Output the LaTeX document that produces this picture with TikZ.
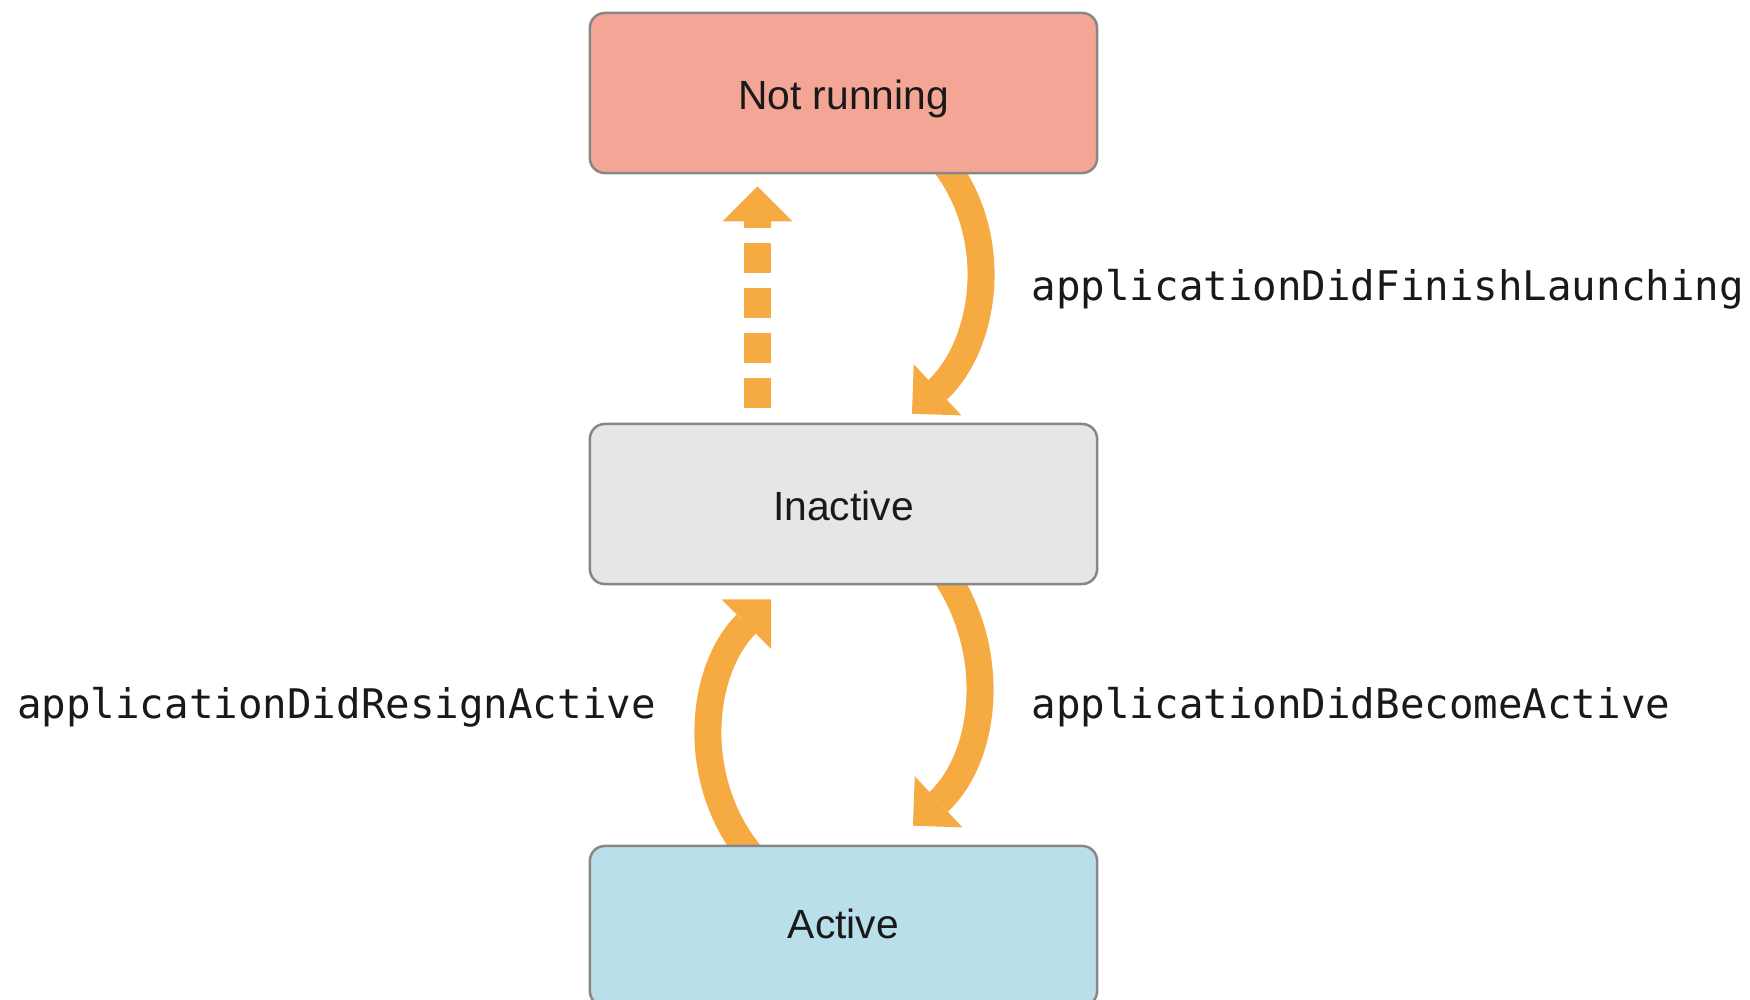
\documentclass[tikz,border=0pt]{standalone}
\usepackage{fontspec}
\setmainfont{Liberation Sans}
\newfontfamily\codefont{DejaVu Sans Mono}
\usetikzlibrary{arrows.meta,backgrounds}
\definecolor{nrfill}{RGB}{243,166,149}
\definecolor{infill}{RGB}{229,231,230}
\definecolor{acfill}{RGB}{185,223,234}
\definecolor{boxline}{RGB}{135,135,135}
\definecolor{arrowc}{RGB}{245,170,66}
\definecolor{ink}{RGB}{25,25,25}
\begin{document}
\begin{tikzpicture}[x=0.01cm,y=0.01cm,
  state/.style={draw=boxline, line width=0.025cm, rounded corners=0.15cm,
    minimum width=5.07cm, minimum height=1.6cm, inner sep=0pt,
    text height=0.32cm, text depth=0pt,
    text=ink, font=\fontsize{11.6}{14}\selectfont},
  flow/.style={draw=arrowc, line width=0.27cm,
    -{Triangle[length=0.35cm,width=0.7cm,line width=0pt]}},
  lbl/.style={font=\codefont\fontsize{11.6}{14}\selectfont, text=ink,
    inner sep=0pt, anchor=base west}]
\useasboundingbox (0,0) rectangle (1750,-1000);

% application states
\node[state, fill=nrfill] (nr) at (843.5,-93)  {Not running};
\node[state, fill=infill] (in) at (843.5,-504) {Inactive};
\node[state, fill=acfill, text depth=0.08cm] (ac) at (843.5,-926) {Active};

% transitions, drawn underneath the state boxes
\begin{scope}[on background layer]
  \draw[flow] ([shift={(95.5,17.6)}]nr.south) to[out=-50,in=43]
              ([shift={(68.5,9)}]in.north);
  \draw[flow] ([shift={(89,27.7)}]in.south) to[out=-50,in=43]
              ([shift={(69.5,19)}]ac.north);
  \draw[flow] ([shift={(-80,-24)}]ac.north) to[out=135.5,in=225]
              ([shift={(-72.5,-14)}]in.south);
  \draw[flow, dash pattern=on 0.3cm off 0.15cm]
              ([shift={(-86,15)}]in.north) -- ([shift={(-86,-12)}]nr.south);
\end{scope}

% delegate callbacks
\node[lbl] (lfinish) at (1031,-300) {applicationDidFinishLaunching};
\node[lbl] (lbecome) at (1031,-718) {applicationDidBecomeActive};
\node[lbl] (lresign) at (16.5,-718) {applicationDidResignActive};
\end{tikzpicture}
\end{document}
